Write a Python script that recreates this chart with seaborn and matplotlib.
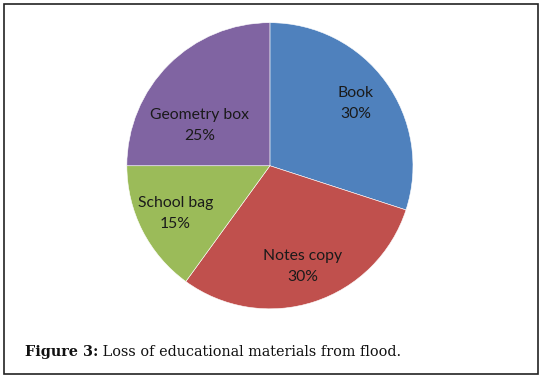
import matplotlib
matplotlib.use("Agg")
import matplotlib.pyplot as plt
import seaborn as sns
from matplotlib.patches import Rectangle

# Dados do gráfico
categorias = ["Book", "Notes copy", "School bag", "Geometry box"]
percentuais = [30, 30, 15, 25]
cores = ["#4F81BD", "#C0504D", "#9BBB59", "#8064A2"]
legenda_fig = "Figure 3:"
legenda_txt = " Loss of educational materials from flood."

sns.set_theme(style="white")
plt.rcParams["font.family"] = ["Lato", "DejaVu Sans"]

fig = plt.figure(figsize=(5.42, 3.78), dpi=100)
ax = fig.add_axes([0.234, 0.183, 0.528, 0.757])

rotulos = [f"{c}\n{p}%" for c, p in zip(categorias, percentuais)]
wedges, textos = ax.pie(percentuais, colors=cores, startangle=90, counterclock=False,
                        labels=rotulos, labeldistance=0.74,
                        wedgeprops=dict(edgecolor="white", linewidth=0.4),
                        textprops=dict(fontsize=11.3, color="#1a1a1a",
                                       ha="center", va="center", linespacing=1.65))
for t in textos:
    t.set_ha("center")
# Ajuste do rótulo "Geometry box" (Excel o coloca mais para baixo)
x, y = textos[3].get_position()
textos[3].set_position((x + 0.03, y - 0.24))
ax.set_aspect("equal")
ax.set_xlim(-1, 1)
ax.set_ylim(-1, 1)

# Moldura da figura
fig.patches.append(Rectangle((4 / 542, 4 / 378), 534 / 542, 370 / 378,
                             transform=fig.transFigure, fill=False,
                             edgecolor="#222222", linewidth=1.2))

# Legenda (parte em negrito + parte normal)
t1 = fig.text(25 / 542, 1 - 356 / 378, legenda_fig, family="DejaVu Serif",
              fontsize=10.4, fontweight="bold", color="#111111", va="baseline")
fig.canvas.draw()
bb = t1.get_window_extent()
fig.text(bb.x1 / fig.bbox.width, 1 - 356 / 378, legenda_txt, family="DejaVu Serif",
         fontsize=10.4, color="#111111", va="baseline")

fig.savefig("out.png", dpi=100)
